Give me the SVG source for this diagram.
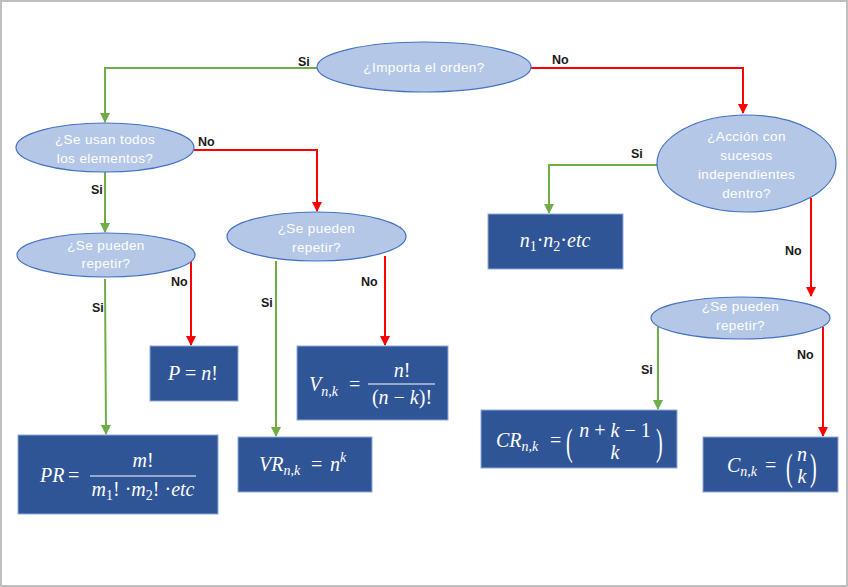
<svg xmlns="http://www.w3.org/2000/svg" width="848" height="587" viewBox="0 0 848 587">
<defs>
<style>
.bg{fill:#ffffff;stroke:#bfbfbf;stroke-width:2}
.q{fill:#b4c7e7;stroke:#4472c4;stroke-width:1.2}
.qt{font-family:"Liberation Sans","Open Sans",sans-serif;font-size:13.5px;fill:#ffffff;text-anchor:middle;letter-spacing:0.4px}
.b{fill:#2f5597;stroke:#8faadc;stroke-width:1}
.m{font-family:"Liberation Serif","DejaVu Serif",serif;font-size:20px;fill:#ffffff;font-style:italic}
.u{font-style:normal}
.s{font-size:14px}
.g{fill:none;stroke:#70ad47;stroke-width:2}
.r{fill:none;stroke:#ff0000;stroke-width:2}
.lb{font-family:"Liberation Sans","Open Sans",sans-serif;font-size:12.5px;font-weight:bold;fill:#1a1a1a}
.fl{stroke:#ffffff;stroke-width:1.2}
</style>
<marker id="ag" viewBox="0 0 10 10" refX="9" refY="5" markerWidth="5" markerHeight="5" orient="auto"><path d="M0,0 L10,5 L0,10 z" fill="#70ad47"/></marker>
<marker id="ar" viewBox="0 0 10 10" refX="9" refY="5" markerWidth="5" markerHeight="5" orient="auto"><path d="M0,0 L10,5 L0,10 z" fill="#ff0000"/></marker>
</defs>
<rect class="bg" x="1" y="1" width="846" height="585"/>

<g id="connectors">
<path class="g" d="M317,68 H105 V122" marker-end="url(#ag)"/>
<path class="r" d="M531,68 H743 V113" marker-end="url(#ar)"/>
<path class="r" d="M194,150 H317 V211" marker-end="url(#ar)"/>
<path class="g" d="M105,172 V232" marker-end="url(#ag)"/>
<path class="r" d="M191,259 V345" marker-end="url(#ar)"/>
<path class="g" d="M105,279 L106,434" marker-end="url(#ag)"/>
<path class="g" d="M276,261 V436" marker-end="url(#ag)"/>
<path class="r" d="M385,256 V345" marker-end="url(#ar)"/>
<path class="g" d="M658,165 H549 V213" marker-end="url(#ag)"/>
<path class="r" d="M811,198 V296" marker-end="url(#ar)"/>
<path class="g" d="M658,327 V409" marker-end="url(#ag)"/>
<path class="r" d="M823,327 V436" marker-end="url(#ar)"/>
<text class="lb" x="298" y="66">Si</text>
<text class="lb" x="552" y="64">No</text>
<text class="lb" x="198" y="146">No</text>
<text class="lb" x="91" y="194">Si</text>
<text class="lb" x="171" y="286">No</text>
<text class="lb" x="92" y="312">Si</text>
<text class="lb" x="261" y="307">Si</text>
<text class="lb" x="361" y="286">No</text>
<text class="lb" x="631" y="158">Si</text>
<text class="lb" x="785" y="255">No</text>
<text class="lb" x="641" y="374">Si</text>
<text class="lb" x="797" y="359">No</text>
</g>

<g id="q-orden">
<ellipse class="q" cx="424" cy="67" rx="107" ry="25"/>
<text class="qt" x="424" y="72">¿Importa el orden?</text>
</g>
<g id="q-todos">
<ellipse class="q" cx="105" cy="147.5" rx="89" ry="24.5"/>
<text class="qt" x="105" y="144">¿Se usan todos</text>
<text class="qt" x="105" y="163">los elementos?</text>
</g>
<g id="q-rep1">
<ellipse class="q" cx="106" cy="255" rx="89" ry="22"/>
<text class="qt" x="106" y="250">¿Se pueden</text>
<text class="qt" x="106" y="268">repetir?</text>
</g>
<g id="q-rep2">
<ellipse class="q" cx="316.5" cy="236.5" rx="89.5" ry="24.5"/>
<text class="qt" x="316.5" y="233">¿Se pueden</text>
<text class="qt" x="316.5" y="252">repetir?</text>
</g>
<g id="q-accion">
<ellipse class="q" cx="746.5" cy="163.5" rx="89.5" ry="48.5"/>
<text class="qt" x="746.5" y="141">¿Acción con</text>
<text class="qt" x="746.5" y="160">sucesos</text>
<text class="qt" x="746.5" y="179">independientes</text>
<text class="qt" x="746.5" y="198">dentro?</text>
</g>
<g id="q-rep3">
<ellipse class="q" cx="740.5" cy="318" rx="89.5" ry="21"/>
<text class="qt" x="740.5" y="311">¿Se pueden</text>
<text class="qt" x="740.5" y="330">repetir?</text>
</g>

<g id="f-prod">
<rect class="b" x="488" y="214" width="135" height="55"/>
<text class="m" x="555" y="247" text-anchor="middle">n<tspan class="u s" dy="4">1</tspan><tspan class="u" dy="-4">·</tspan>n<tspan class="u s" dy="4">2</tspan><tspan class="u" dy="-4">·</tspan>etc</text>
</g>
<g id="f-p">
<rect class="b" x="150" y="346" width="88" height="55"/>
<text class="m" x="193" y="380" text-anchor="middle">P <tspan class="u">=</tspan> n<tspan class="u">!</tspan></text>
</g>
<g id="f-pr">
<rect class="b" x="18" y="435" width="200" height="79"/>
<text class="m" x="40" y="482">PR</text>
<text class="m u" x="68" y="482">=</text>
<line class="fl" x1="90" y1="476" x2="196" y2="476"/>
<text class="m" x="143" y="467" text-anchor="middle">m<tspan class="u">!</tspan></text>
<text class="m" x="143" y="496" text-anchor="middle">m<tspan class="u s" dy="4">1</tspan><tspan class="u" dy="-4">! ·</tspan>m<tspan class="u s" dy="4">2</tspan><tspan class="u" dy="-4">! ·</tspan>etc</text>
</g>
<g id="f-vr">
<rect class="b" x="238" y="437" width="134" height="55"/>
<text class="m" x="259" y="471">VR<tspan class="s" dy="4">n,k</tspan></text>
<text class="m u" x="311" y="471">=</text>
<text class="m" x="330" y="471">n<tspan class="s" dy="-9">k</tspan></text>
</g>
<g id="f-v">
<rect class="b" x="297" y="346" width="151" height="74"/>
<text class="m" x="309" y="391">V<tspan class="s" dy="5">n,k</tspan></text>
<text class="m u" x="349" y="391">=</text>
<line class="fl" x1="368" y1="384" x2="435" y2="384"/>
<text class="m" x="402" y="377" text-anchor="middle">n<tspan class="u">!</tspan></text>
<text class="m" x="402" y="404" text-anchor="middle"><tspan class="u">(</tspan>n <tspan class="u">−</tspan> k<tspan class="u">)!</tspan></text>
</g>
<g id="f-cr">
<rect class="b" x="481" y="410" width="196" height="58"/>
<text class="m" x="496" y="447">CR<tspan class="s" dy="4">n,k</tspan></text>
<text class="m u" x="550" y="447">=</text>
<text class="m u" x="0" y="0" transform="translate(566,455) scale(1,1.85)">(</text>
<text class="m" x="615" y="437" text-anchor="middle">n <tspan class="u">+</tspan> k <tspan class="u">− 1</tspan></text>
<text class="m" x="615" y="459" text-anchor="middle">k</text>
<text class="m u" x="0" y="0" transform="translate(656,455) scale(1,1.85)">)</text>
</g>
<g id="f-c">
<rect class="b" x="703" y="437" width="135" height="55"/>
<text class="m" x="727" y="472">C<tspan class="s" dy="4">n,k</tspan></text>
<text class="m u" x="765" y="472">=</text>
<text class="m u" x="0" y="0" transform="translate(786,480) scale(1,1.85)">(</text>
<text class="m" x="802" y="461" text-anchor="middle">n</text>
<text class="m" x="802" y="483" text-anchor="middle">k</text>
<text class="m u" x="0" y="0" transform="translate(810,480) scale(1,1.85)">)</text>
</g>
</svg>
